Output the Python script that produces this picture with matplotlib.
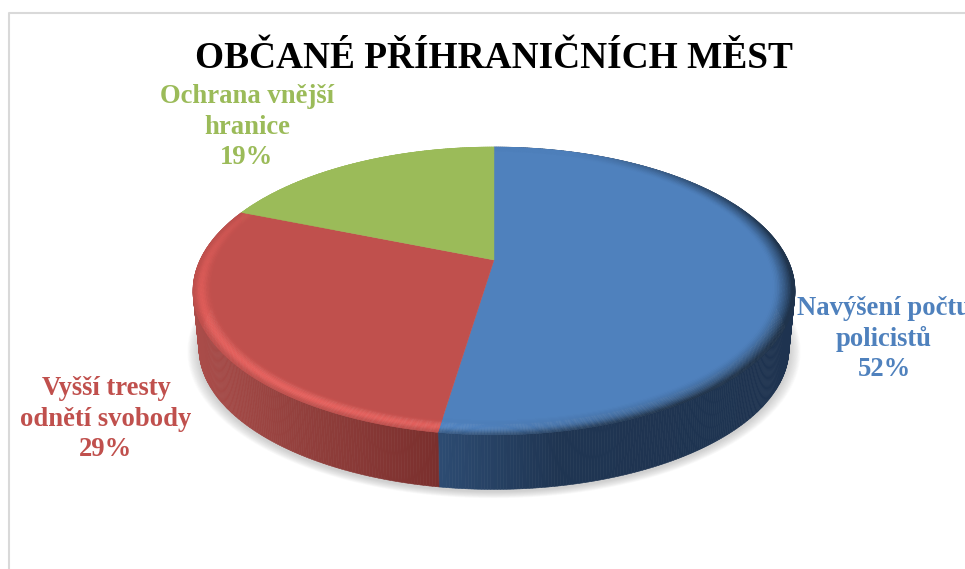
import numpy as np
import matplotlib
matplotlib.use('Agg')
import matplotlib.pyplot as plt
from matplotlib.collections import PolyCollection
from matplotlib.colors import to_rgb

title = 'OBČANÉ PŘÍHRANIČNÍCH MĚST'
categories = ['Navýšení počtu\npolicistů', 'Vyšší tresty\nodnětí svobody', 'Ochrana vnější\nhranice']
values = [52.4, 28.7, 18.9]
colors = ['#4f81bd', '#c0504d', '#9bbb59']
label_pos = [(884, 339), (106, 419), (247, 127)]

# side wall colours by screen x
side_stops = [([438, 560, 800], ['#2d4c73', '#1f3552', '#1e3350']),
              ([190, 300, 440], ['#ab4d4a', '#93403d', '#7a2f2d']),
              ([190, 300], ['#9bbb59', '#9bbb59'])]

plt.rcParams['font.family'] = ['Liberation Serif', 'DejaVu Serif']


def project(theta, r=1.0):
    # perspective view of the flat disc, theta clockwise from the top
    x = r * np.sin(theta)
    y = r * np.cos(theta)
    w = 1 + 0.215 * y
    return 494 + 294 * x / w, 260 - 137.3 * y / w


def base(px, py):
    return 494 + 0.98 * (px - 494), 260 + 0.98 * (py - 260) + 58


def blend(stops, x):
    xs, cols = stops
    rgb = np.array([to_rgb(c) for c in cols])
    return [np.interp(x, xs, rgb[:, i]) for i in range(3)]


fig = plt.figure(figsize=(9.65, 5.69), dpi=100)
ax = fig.add_axes([0, 0, 1, 1])
ax.set_xlim(0, 965)
ax.set_ylim(569, 0)
ax.axis('off')

# chart frame, only top and left are in view
ax.plot([9, 9, 965], [569, 13, 13], color='#d9d9d9', lw=1.5, zorder=1)

edges = np.cumsum([0] + values) / sum(values) * 2 * np.pi

# soft shadow under the disc
all_t = np.linspace(0, 2 * np.pi, 361)
bx, by = base(*project(all_t))
for i in range(14):
    k = 1 + 0.0028 * (14 - i)
    sx = 494 + k * (bx - 494)
    sy = 315 + k * (by - 315) + 2
    ax.fill(sx, sy, color='#6f6f6f', alpha=0.025, lw=0, zorder=2)

# side walls
for i in range(len(values)):
    t = np.arange(edges[i], edges[i + 1] + 1e-6, np.radians(0.5))
    t = np.append(t, edges[i + 1])
    px, py = project(t)
    qx, qy = base(px, py)
    quads = []
    cols = []
    for j in range(len(t) - 1):
        quads.append([(px[j], py[j]), (px[j + 1], py[j + 1]), (qx[j + 1], qy[j + 1]), (qx[j], qy[j])])
        cols.append(blend(side_stops[i], px[j]))
    ax.add_collection(PolyCollection(quads, facecolors=cols, edgecolors=cols, linewidths=0.4, zorder=3))

# top surface
for i in range(len(values)):
    t = np.linspace(edges[i], edges[i + 1], 200)
    px, py = project(t, 0.95)
    ax.fill(np.append(px, 494), np.append(py, 260), color=colors[i], lw=0.3, zorder=4)

# bevelled rim: bright towards lower left, dark towards the right
rings = np.linspace(0.93, 1.0, 15)
for i in range(len(values)):
    t = np.arange(edges[i], edges[i + 1] + 1e-6, np.radians(0.5))
    t = np.append(t, edges[i + 1])
    rgb = np.array(to_rgb(colors[i]))
    quads = []
    cols = []
    for a in range(len(rings) - 1):
        mid = (a + 0.5) / (len(rings) - 1)
        px0, py0 = project(t, rings[a])
        px1, py1 = project(t, rings[a + 1])
        for j in range(len(t) - 1):
            quads.append([(px0[j], py0[j]), (px0[j + 1], py0[j + 1]), (px1[j + 1], py1[j + 1]), (px1[j], py1[j])])
            u, v = np.sin(t[j]), np.cos(t[j])
            lit = max(0.0, -0.6 * u - 0.8 * v) * np.sin(np.pi * mid ** 1.5) ** 2
            dark = max(0.0, 0.75 * u - 0.35 * v + 0.1) * mid ** 1.5
            c = rgb * (1 + 0.2 * lit) if i < 2 else rgb
            c = c * (1 - 0.8 * min(dark, 0.75)) if i == 0 else c
            cols.append(np.clip(c, 0, 1))
    ax.add_collection(PolyCollection(quads, facecolors=cols, edgecolors=cols, linewidths=0.3, zorder=5))

ax.text(493.5, 58, title, fontsize=26.9, fontweight='bold', color='black', ha='center', va='center', zorder=6)

for name, val, col, pos in zip(categories, values, colors, label_pos):
    ax.text(pos[0], pos[1], '%s\n%.0f%%' % (name, val), color=col, fontsize=19.2, fontweight='bold',
            ha='center', va='center', multialignment='center', linespacing=1.27, zorder=6)

fig.savefig('out.png', dpi=100)
